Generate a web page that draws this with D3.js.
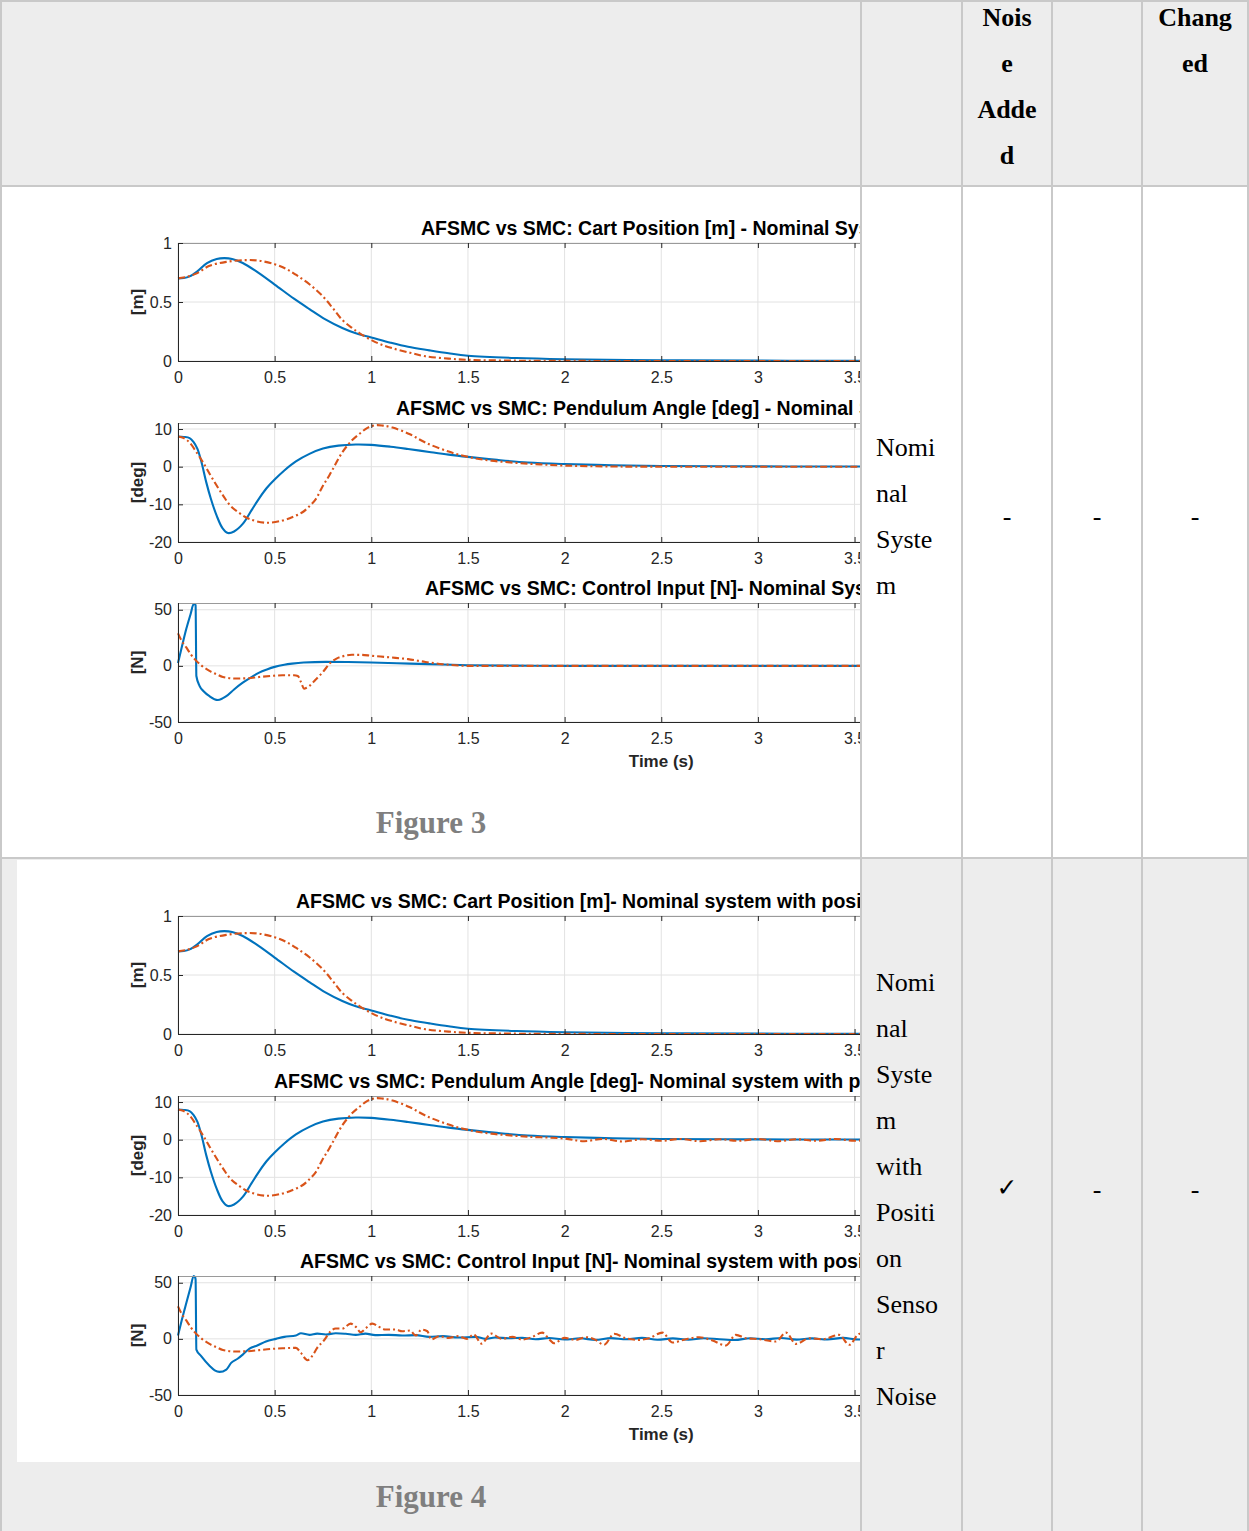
<!DOCTYPE html>
<html lang="en">
<head>
<meta charset="utf-8">
<title>AFSMC vs SMC</title>
<script src="https://d3js.org/d3.v7.min.js"></script>
<style>
  body { margin: 0; background: #fff; }
  svg { display: block; }
</style>
</head>
<body>
<div id="my_dataviz"></div>
<script>

// ---------- values ----------
var timeTicks  = [0, 0.5, 1, 1.5, 2, 2.5, 3, 3.5, 4, 4.5, 5];
var cartTicks  = [0, 0.5, 1];
var angleTicks = [-20, -10, 0, 10];
var forceTicks = [-50, 0, 50];

// [time (s), value]
var cartAFSMC = [[0,0.70],[0.03,0.703],[0.06,0.717],[0.1,0.76],[0.15,0.83],[0.2,0.865],[0.24,0.872],[0.28,0.865],
  [0.335,0.83],[0.4,0.765],[0.5,0.648],[0.6,0.528],[0.68,0.44],[0.76,0.355],[0.85,0.28],[0.92,0.235],[1.0,0.20],
  [1.1,0.155],[1.19,0.12],[1.3,0.09],[1.4,0.065],[1.5,0.045],[1.75,0.025],[2,0.015],[2.5,0.006],[3,0.003],[3.5,0.001],[5,0]];
var cartSMC = [[0,0.70],[0.05,0.715],[0.1,0.745],[0.16,0.805],[0.25,0.84],[0.35,0.855],[0.42,0.85],[0.5,0.82],
  [0.56,0.78],[0.61,0.731],[0.68,0.65],[0.75,0.547],[0.8,0.45],[0.85,0.348],[0.9,0.28],[0.94,0.235],[1,0.178],
  [1.05,0.14],[1.11,0.108],[1.2,0.07],[1.28,0.04],[1.4,0.02],[1.5,0.01],[1.75,0.003],[2,0.001],[5,0]];

var angleAFSMC = [[0,8.0],[0.03,7.9],[0.06,7.6],[0.08,6.6],[0.1,4.8],[0.12,1.5],[0.146,-4.1],[0.17,-8.5],[0.2,-13],
  [0.23,-16.3],[0.258,-17.6],[0.29,-17.2],[0.335,-15.2],[0.38,-11.6],[0.42,-8.4],[0.46,-5.6],[0.5,-3.4],[0.55,-1.0],
  [0.61,1.4],[0.68,3.4],[0.75,4.8],[0.83,5.6],[0.92,5.9],[1,5.8],[1.1,5.3],[1.19,4.7],[1.3,3.9],[1.4,3.2],[1.5,2.6],
  [1.65,1.8],[1.81,1.1],[2,0.7],[2.25,0.4],[2.5,0.2],[3,0.08],[3.5,0.03],[5,0]];
var angleSMC = [[0,8.0],[0.03,7.6],[0.06,6.4],[0.1,3.5],[0.13,1.1],[0.165,-2],[0.2,-5],[0.235,-7.8],[0.27,-10.3],
  [0.32,-12.4],[0.37,-13.9],[0.455,-14.9],[0.54,-14.3],[0.6,-13.2],[0.644,-12.1],[0.68,-10.5],[0.713,-8.6],[0.745,-5.5],
  [0.782,-2.4],[0.85,3.8],[0.9,7],[0.936,8.6],[0.98,10.3],[1.022,11.0],[1.06,10.9],[1.11,10.4],[1.2,8.6],[1.28,6.4],
  [1.4,4.0],[1.5,2.6],[1.62,1.6],[1.81,0.8],[2,0.3],[2.25,0.05],[2.5,0],[5,0]];
var angleSMCNoise = [[0,8.0],[0.03,7.6],[0.06,6.4],[0.1,3.5],[0.13,1.1],[0.165,-2],[0.2,-5],[0.235,-7.8],[0.27,-10.3],
  [0.32,-12.4],[0.37,-13.9],[0.455,-14.9],[0.54,-14.3],[0.6,-13.2],[0.644,-12.1],[0.68,-10.5],[0.713,-8.6],[0.745,-5.5],
  [0.782,-2.4],[0.85,3.8],[0.9,7],[0.936,8.6],[0.98,10.3],[1.022,11.0],[1.06,10.9],[1.11,10.4],[1.2,8.6],[1.28,6.4],
  [1.4,4.0],[1.5,2.6],[1.62,1.6],[1.81,0.8],[2,0.3],[2.1,-0.4],[2.2,0.2],[2.3,-0.5],[2.4,0.1],[2.5,-0.3],[2.6,0.2],
  [2.7,-0.4],[2.8,0.1],[2.9,-0.3],[3.0,0.2],[3.1,-0.4],[3.2,0.1],[3.3,-0.3],[3.4,0.2],[3.5,-0.3],[3.6,0.1],[5,0]];

var forceAFSMC = [[0,2.5],[0.02,17],[0.043,33],[0.065,46],[0.081,55],[0.088,55],[0.091,54],[0.095,-9],[0.112,-18],
  [0.135,-23],[0.163,-27],[0.206,-30.4],[0.23,-29],[0.25,-27],[0.29,-21],[0.335,-15],[0.38,-10],[0.42,-6],[0.46,-3.2],
  [0.5,-0.9],[0.55,1],[0.59,2],[0.65,3],[0.765,3.6],[0.88,3.4],[1,3],[1.2,2],[1.37,1.2],[1.5,0.6],[1.75,0.2],[2,0],[5,0]];
var forceSMC = [[0,29],[0.02,22],[0.043,16.4],[0.065,10.5],[0.086,6],[0.12,0.5],[0.163,-4.5],[0.2,-7.5],[0.232,-9.9],
  [0.3,-11.3],[0.36,-11],[0.42,-9.9],[0.48,-9],[0.54,-8.4],[0.6,-8.4],[0.62,-9],[0.635,-14],[0.653,-20.3],[0.665,-19.5],
  [0.68,-17.9],[0.71,-12.5],[0.747,-6],[0.79,3],[0.82,6.5],[0.85,8.4],[0.9,9.85],[0.95,9.8],[1,9],[1.1,7.5],[1.19,6],
  [1.28,3.5],[1.37,1.5],[1.5,0],[5,0]];

var forceAFSMCNoise = [[0,3],[0.02,17],[0.043,32],[0.065,46],[0.081,56],[0.088,55],[0.091,53],[0.095,-9.5],[0.12,-15.4],
  [0.163,-24],[0.19,-28],[0.215,-29.4],[0.25,-27.3],[0.275,-21.4],[0.31,-17.5],[0.335,-14],[0.37,-8.6],[0.41,-5.9],
  [0.455,-2.4],[0.507,0],[0.55,1.8],[0.61,3],[0.636,5],[0.68,3.6],[0.72,4.7],[0.765,3.9],[0.816,5],[0.868,4.5],
  [0.92,3.6],[0.97,4.7],[1.02,3.3],[1.09,3.6],[1.16,3],[1.23,3.3],[1.3,1.8],[1.37,2.4],[1.45,1.2],[1.54,1.8],[1.59,0],
  [1.64,1.2],[1.71,0.6],[1.78,0.9],[1.85,-0.3],[1.92,0.8],[2.0,-0.6],[2.08,0.5],[2.16,-0.9],[2.24,0.7],[2.32,-0.4],
  [2.4,0.9],[2.48,-0.8],[2.56,0.4],[2.64,-0.7],[2.72,0.6],[2.8,-0.3],[2.88,-1.0],[2.96,0.6],[3.04,-0.3],[3.12,0.8],
  [3.2,-0.7],[3.28,0.4],[3.36,-0.5],[3.44,0.9],[3.52,-0.6],[3.6,0.5],[3.7,-0.3],[3.8,0]];
var forceSMCNoise = [[0,29],[0.02,22],[0.043,16.4],[0.065,10.5],[0.086,6],[0.12,0.5],[0.163,-4.5],[0.2,-7.5],[0.232,-9.9],
  [0.3,-11.3],[0.36,-11],[0.42,-10],[0.48,-9],[0.54,-8.4],[0.61,-8],[0.636,-12.5],[0.67,-19],[0.696,-14.8],[0.72,-8],
  [0.756,-1.2],[0.79,6.8],[0.816,9.2],[0.85,9.2],[0.893,13.6],[0.92,10.7],[0.945,5.9],[0.97,9.2],[1.005,13.6],
  [1.04,10.7],[1.074,8.3],[1.125,8.3],[1.16,6.8],[1.2,7.4],[1.23,3],[1.26,8.3],[1.29,6.8],[1.31,-0.6],[1.35,2.4],
  [1.4,0.9],[1.45,2.4],[1.495,0],[1.53,3.9],[1.57,-4.2],[1.62,4.7],[1.675,0],[1.73,1.8],[1.78,-0.6],[1.83,1.5],
  [1.884,5.6],[1.92,-0.3],[1.945,-3.9],[2.0,0.9],[2.057,-0.9],[2.11,1.5],[2.16,-0.9],[2.204,-5.3],[2.256,4.5],
  [2.316,0.6],[2.385,-0.9],[2.437,0.6],[2.506,5.6],[2.558,-3.3],[2.627,-0.3],[2.696,1.5],[2.765,-1.5],[2.834,-5.9],
  [2.886,3.6],[2.938,0.6],[3.007,-0.3],[3.093,-2.4],[3.145,5.6],[3.197,-4.5],[3.266,0.6],[3.335,-0.3],[3.42,3.6],
  [3.473,-5.3],[3.525,4.5],[3.577,1.5],[3.63,-1],[3.7,0.5],[3.8,0]];

// titles as far as they are visible (the picture is cut by the table cell)
var fig3Titles = ["AFSMC vs SMC: Cart Position [m] - Nominal Sys",
                  "AFSMC vs SMC: Pendulum Angle [deg] - Nominal S",
                  "AFSMC vs SMC: Control Input [N]- Nominal Sys"];
var fig4Titles = ["AFSMC vs SMC: Cart Position [m]- Nominal system with posi",
                  "AFSMC vs SMC: Pendulum Angle [deg]- Nominal system with p",
                  "AFSMC vs SMC: Control Input [N]- Nominal system with posi"];
var yLabels = ["[m]", "[deg]", "[N]"];

// table texts
var headerNoise   = ["Nois", "e", "Adde", "d"];
var headerChanged = ["Chang", "ed"];
var row1Label = ["Nomi", "nal", "Syste", "m"];
var row2Label = ["Nomi", "nal", "Syste", "m", "with", "Positi", "on", "Senso", "r", "Noise"];
var row1Marks = ["-", "-", "-"];
var row2Marks = ["\u2713", "-", "-"];

// ---------- page ----------
var W = 1249, H = 1531;
var blue = "#0072BD", red = "#D95319";
var sans = "'Liberation Sans', Arial, Helvetica, sans-serif";
var serif = "'Liberation Serif', 'Times New Roman', serif";

var svg = d3.select("#my_dataviz")
  .append("svg")
    .attr("width", W)
    .attr("height", H);

// table cell backgrounds
svg.append("rect").attr("x", 0).attr("y", 0).attr("width", W).attr("height", 186).attr("fill", "#ededed");
svg.append("rect").attr("x", 0).attr("y", 186).attr("width", W).attr("height", 672).attr("fill", "#ffffff");
svg.append("rect").attr("x", 0).attr("y", 858).attr("width", W).attr("height", 673).attr("fill", "#ededed");
// picture of figure 4 sits on white inside the grey row
svg.append("rect").attr("x", 17).attr("y", 860).attr("width", 844).attr("height", 602).attr("fill", "#ffffff");

// clip so the plots are cut at the first column border
svg.append("defs").append("clipPath").attr("id", "cellclip")
  .append("rect").attr("x", 0).attr("y", 0).attr("width", 860).attr("height", H);

var plots = svg.append("g").attr("clip-path", "url(#cellclip)");

// shared time axis scale
var x = d3.scaleLinear().domain([0, 5]).range([178, 178 + 5 * 193.3]);
var fmt = function(d) { return d3.format("~g")(d).replace("\u2212", "-"); };

// panel layout (figure 3); figure 4 is shifted down by 673 px
var panels = [
  {top: 243, bottom: 361, domain: [0, 1],      ticks: cartTicks,  titleX: [421, 296], curve: d3.curveCatmullRom.alpha(0.5)},
  {top: 423, bottom: 542, domain: [-20, 11.6], ticks: angleTicks, titleX: [396, 274], curve: d3.curveCatmullRom.alpha(0.5)},
  {top: 603, bottom: 722, domain: [-50, 56],   ticks: forceTicks, titleX: [425, 300], curve: d3.curveMonotoneX}
];

var lineStyles = {
  afsmc: {color: blue, dash: null},
  smc:   {color: red,  dash: "7,3,2,3"}
};

function drawPanel(p, i, fig, dy, title, series) {
  var top = p.top + dy, bottom = p.bottom + dy;
  var y = d3.scaleLinear().domain(p.domain).range([bottom, top]);
  var g = plots.append("g");

  // grid
  g.selectAll(".gx").data(timeTicks).enter().append("line")
    .attr("x1", function(d){ return x(d); }).attr("x2", function(d){ return x(d); })
    .attr("y1", top).attr("y2", bottom)
    .attr("stroke", "#e2e2e2").attr("stroke-width", 1);
  g.selectAll(".gy").data(p.ticks).enter().append("line")
    .attr("x1", x(0)).attr("x2", x(5))
    .attr("y1", function(d){ return y(d); }).attr("y2", function(d){ return y(d); })
    .attr("stroke", "#e2e2e2").attr("stroke-width", 1);

  // curves: AFSMC first, SMC drawn on top
  var line = d3.line()
    .x(function(d){ return x(d[0]); })
    .y(function(d){ return y(d[1]); })
    .curve(p.curve);
  series.forEach(function(s) {
    g.append("path")
      .datum(s.data)
      .attr("d", line)
      .attr("fill", "none")
      .attr("stroke", lineStyles[s.kind].color)
      .attr("stroke-width", 2.1)
      .attr("stroke-linejoin", "round")
      .attr("stroke-dasharray", lineStyles[s.kind].dash);
  });

  // axes (MATLAB style, ticks pointing inwards)
  var xb = g.append("g").attr("transform", "translate(0," + bottom + ")")
    .call(d3.axisBottom(x).tickValues(timeTicks).tickSizeInner(-5).tickSizeOuter(0).tickPadding(11).tickFormat(fmt));
  var xt = g.append("g").attr("transform", "translate(0," + top + ")")
    .call(d3.axisTop(x).tickValues(timeTicks).tickSizeInner(-5).tickSizeOuter(0).tickFormat(""));
  var yl = g.append("g").attr("transform", "translate(" + x(0) + ",0)")
    .call(d3.axisLeft(y).tickValues(p.ticks).tickSizeInner(-5).tickSizeOuter(0).tickPadding(6).tickFormat(fmt));

  [xb, xt, yl].forEach(function(a) {
    a.selectAll("line").attr("stroke", "#262626");
    a.selectAll("text").attr("fill", "#262626").attr("font-size", "16px").attr("font-family", sans);
    a.select(".domain").attr("stroke", "#262626");
  });
  xt.select(".domain").attr("stroke", "#9a9a9a");

  // title
  g.append("text")
    .attr("x", p.titleX[fig])
    .attr("y", top - 8)
    .text(title)
    .attr("font-size", "19.5px")
    .attr("font-weight", "bold")
    .attr("font-family", sans)
    .attr("fill", "#000");

  // y label
  g.append("text")
    .attr("transform", "translate(143," + ((top + bottom) / 2) + ") rotate(-90)")
    .attr("text-anchor", "middle")
    .text(yLabels[i])
    .attr("font-size", "17px")
    .attr("font-weight", "bold")
    .attr("font-family", sans)
    .attr("fill", "#262626");

  if (i === 2) {
    g.append("text")
      .attr("x", x(2.5))
      .attr("y", bottom + 45)
      .attr("text-anchor", "middle")
      .text("Time (s)")
      .attr("font-size", "17px")
      .attr("font-weight", "bold")
      .attr("font-family", sans)
      .attr("fill", "#262626");
  }
}

var fig3Series = [
  [{kind: "afsmc", data: cartAFSMC},  {kind: "smc", data: cartSMC}],
  [{kind: "afsmc", data: angleAFSMC}, {kind: "smc", data: angleSMC}],
  [{kind: "afsmc", data: forceAFSMC}, {kind: "smc", data: forceSMC}]
];
var fig4Series = [
  [{kind: "afsmc", data: cartAFSMC},       {kind: "smc", data: cartSMC}],
  [{kind: "afsmc", data: angleAFSMC},      {kind: "smc", data: angleSMCNoise}],
  [{kind: "afsmc", data: forceAFSMCNoise}, {kind: "smc", data: forceSMCNoise}]
];

panels.forEach(function(p, i) { drawPanel(p, i, 0, 0, fig3Titles[i], fig3Series[i]); });
panels.forEach(function(p, i) { drawPanel(p, i, 1, 673, fig4Titles[i], fig4Series[i]); });

// figure captions
[["Figure 3", 833], ["Figure 4", 1507]].forEach(function(c) {
  svg.append("text")
    .attr("x", 431).attr("y", c[1])
    .attr("text-anchor", "middle")
    .text(c[0])
    .attr("font-size", "31px")
    .attr("font-weight", "bold")
    .attr("font-family", serif)
    .attr("fill", "#7f7f7f");
});

// header texts
function stack(lines, xPos, y0, anchor, weight, fill) {
  svg.append("g").selectAll("text").data(lines).enter().append("text")
    .attr("x", xPos)
    .attr("y", function(d, k){ return y0 + k * 46; })
    .attr("text-anchor", anchor)
    .text(function(d){ return d; })
    .attr("font-size", "26px")
    .attr("font-weight", weight)
    .attr("font-family", serif)
    .attr("fill", fill || "#000");
}
stack(headerNoise, 1007, 26, "middle", "bold");
stack(headerChanged, 1195, 26, "middle", "bold");
stack(row1Label, 876, 456, "start", "normal");
stack(row2Label, 876, 991, "start", "normal");

var markX = [1007, 1097, 1195];
row1Marks.forEach(function(m, k) {
  svg.append("text").attr("x", markX[k]).attr("y", 525).attr("text-anchor", "middle")
    .text(m).attr("font-size", "26px").attr("font-family", serif).attr("fill", "#000");
});
row2Marks.forEach(function(m, k) {
  svg.append("text").attr("x", markX[k]).attr("y", k === 0 ? 1196 : 1198).attr("text-anchor", "middle")
    .text(m).attr("font-size", k === 0 ? "25px" : "26px")
    .attr("font-family", k === 0 ? "'DejaVu Sans', sans-serif" : serif).attr("fill", "#000");
});

// table borders
var border = "#c9c9c9";
var vLines = [1, 861, 962, 1052, 1142, 1248];
var hLines = [1, 186, 858];
svg.append("g").selectAll("line").data(vLines).enter().append("line")
  .attr("x1", function(d){ return d; }).attr("x2", function(d){ return d; })
  .attr("y1", 0).attr("y2", H)
  .attr("stroke", border).attr("stroke-width", 2);
svg.append("g").selectAll("line").data(hLines).enter().append("line")
  .attr("x1", 0).attr("x2", W)
  .attr("y1", function(d){ return d; }).attr("y2", function(d){ return d; })
  .attr("stroke", border).attr("stroke-width", 2);

</script>
</body>
</html>
